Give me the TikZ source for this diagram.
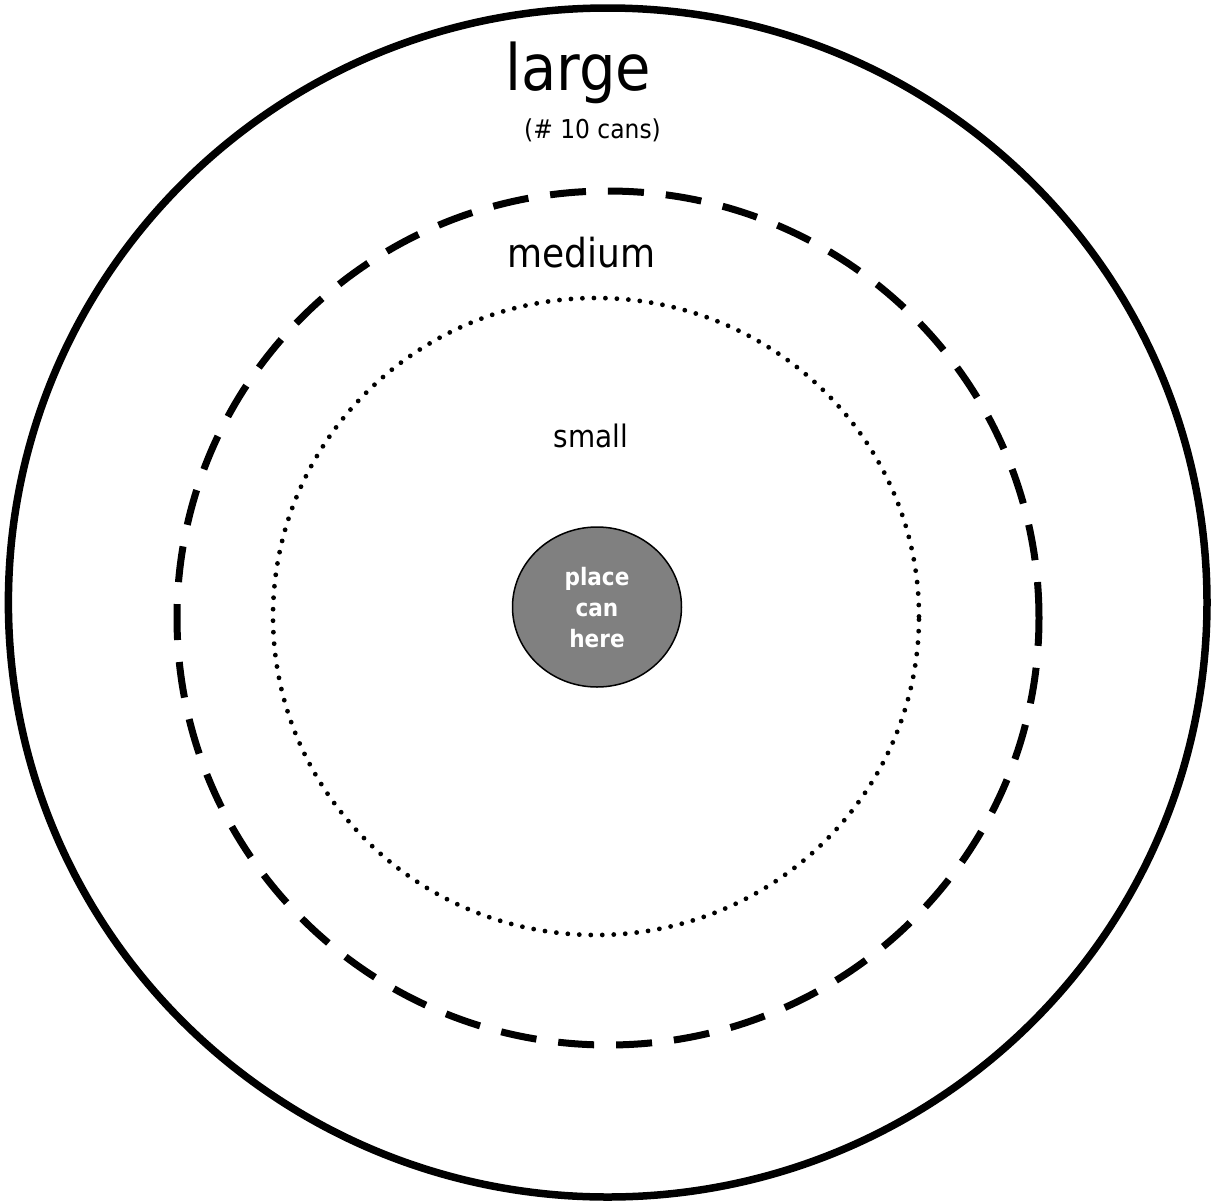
\documentclass[tikz,border=0pt]{standalone}
\usepackage{fontspec}
\setmainfont{DejaVu Sans Condensed}
\usetikzlibrary{shapes.geometric}
\tikzset{
  ring/.style={draw=black, line width=7.5pt},
  dashring/.style={draw=black, line width=7pt, dash pattern=on 36pt off 22pt},
  dotring/.style={draw=black, line width=4.8pt, line cap=round, dash pattern=on 0pt off 11.5pt},
  label/.style={anchor=base, inner sep=0pt, text=black},
  canlabel/.style={inner sep=0pt, text=white, align=center, font=\fontsize{24}{31}\selectfont\bfseries},
}
\begin{document}
\begin{tikzpicture}[x=1pt, y=-1pt]
  \useasboundingbox (0,0) rectangle (1211,1203);
  \fill[white] (0,0) rectangle (1211,1203);

  % size rings
  \draw[ring] (607.7,602.5) ellipse [x radius=599.3pt, y radius=594.5pt];
  \draw[dashring] (608,618) ellipse [x radius=431pt, y radius=427pt];
  \draw[dotring] (596,616.5) ellipse [x radius=323pt, y radius=318.5pt];

  % can spot
  \draw[fill={rgb,255:red,128;green,128;blue,128}, line width=1.5pt] (597,607) ellipse [x radius=84.5pt, y radius=80pt];
  \node[canlabel] (can) at (597,608) {place\\can\\here};

  % labels
  \node[label, font=\fontsize{64}{70}\selectfont] (large) at (578.5,90) {large};
  \node[label, font=\fontsize{26}{30}\selectfont] (cans) at (592.5,138) {(\# 10 cans)};
  \node[label, font=\fontsize{40}{46}\selectfont] (medium) at (581.5,267) {medium};
  \node[label, font=\fontsize{31}{36}\selectfont] (small) at (591,447) {small};
\end{tikzpicture}
\end{document}
